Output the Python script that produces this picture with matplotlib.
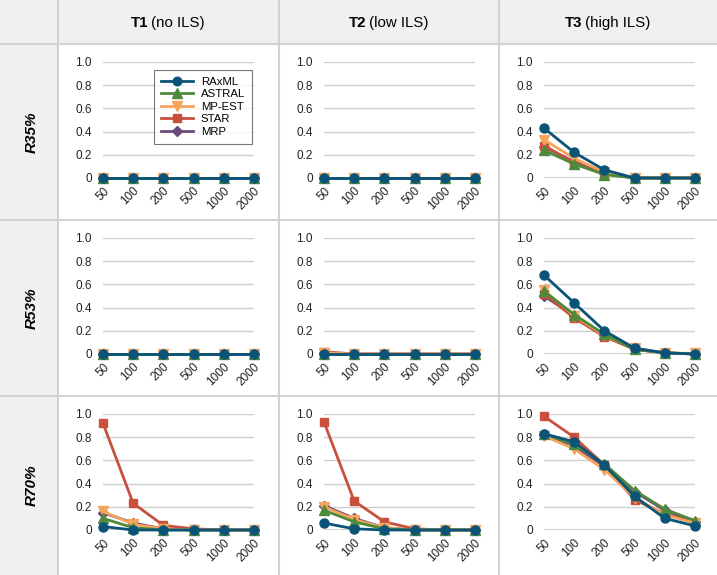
import matplotlib
matplotlib.use("Agg")
import matplotlib.pyplot as plt
from matplotlib.patches import Rectangle

plt.rcParams['font.family'] = ['Liberation Sans', 'DejaVu Sans']

# sample sizes on the x axis (categorical)
x_labels = ['50', '100', '200', '500', '1000', '2000']
methods = ['RAxML', 'ASTRAL', 'MP-EST', 'STAR', 'MRP']
col_titles = [('T1', ' (no ILS)'), ('T2', ' (low ILS)'), ('T3', ' (high ILS)')]
row_titles = ['R35%', 'R53%', 'R70%']

# each panel: one list per method, in the order of `methods`
r35_t1 = [[0, 0, 0, 0, 0, 0]] * 5
r35_t2 = [[0, 0, 0, 0, 0, 0]] * 5
r35_t3 = [
    [0.43, 0.22, 0.07, 0, 0, 0],
    [0.24, 0.12, 0.03, 0, 0, 0],
    [0.33, 0.17, 0.05, 0, 0, 0],
    [0.28, 0.13, 0.04, 0, 0, 0],
    [0.27, 0.14, 0.04, 0, 0, 0],
]
r53_t1 = [[0, 0, 0, 0, 0, 0]] * 5
r53_t2 = [
    [0, 0, 0, 0, 0, 0],
    [0, 0, 0, 0, 0, 0],
    [0.01, 0, 0, 0, 0, 0],
    [0.02, 0, 0, 0, 0, 0],
    [0.01, 0, 0, 0, 0, 0],
]
r53_t3 = [
    [0.68, 0.44, 0.20, 0.05, 0.01, 0],
    [0.54, 0.34, 0.17, 0.04, 0.01, 0],
    [0.55, 0.33, 0.16, 0.05, 0.01, 0.005],
    [0.52, 0.31, 0.15, 0.04, 0.01, 0],
    [0.50, 0.33, 0.16, 0.04, 0.01, 0],
]
r70_t1 = [
    [0.03, 0, 0, 0, 0, 0],
    [0.10, 0.02, 0, 0, 0, 0],
    [0.16, 0.05, 0.01, 0, 0, 0],
    [0.92, 0.23, 0.04, 0.01, 0, 0],
    [0.15, 0.06, 0.01, 0, 0, 0],
]
r70_t2 = [
    [0.06, 0.01, 0, 0, 0, 0],
    [0.17, 0.07, 0.01, 0, 0, 0],
    [0.20, 0.09, 0.02, 0, 0, 0],
    [0.93, 0.25, 0.07, 0.01, 0, 0],
    [0.21, 0.10, 0.02, 0, 0, 0],
]
r70_t3 = [
    [0.83, 0.76, 0.56, 0.29, 0.10, 0.035],
    [0.83, 0.74, 0.57, 0.34, 0.18, 0.08],
    [0.81, 0.70, 0.52, 0.28, 0.13, 0.06],
    [0.98, 0.80, 0.56, 0.26, 0.14, 0.06],
    [0.82, 0.72, 0.55, 0.33, 0.17, 0.07],
]
panels = [[r35_t1, r35_t2, r35_t3],
          [r53_t1, r53_t2, r53_t3],
          [r70_t1, r70_t2, r70_t3]]

colors = ['#0b5478', '#4f8a3c', '#f6a45c', '#c8503d', '#6b4a7c']
markers = ['o', '^', 'v', 's', 'D']
msizes = [6.5, 7, 7, 6, 5.5]

W, H = 717, 575
col_edges = [0, 58, 279, 499, 717]
row_edges = [0, 44, 220, 396, 575]

fig = plt.figure(figsize=(W / 100, H / 100), dpi=100)

# table background in pixel coordinates
bg = fig.add_axes([0, 0, 1, 1])
bg.set_xlim(0, W)
bg.set_ylim(H, 0)
bg.axis('off')
bg.add_patch(Rectangle((0, 0), W, row_edges[1], color='#f0f0f0', lw=0))
bg.add_patch(Rectangle((0, 0), col_edges[1], H, color='#f0f0f0', lw=0))
for x in col_edges[1:-1]:
    bg.plot([x, x], [0, H], color='#d2d2d2', lw=1.5)
for y in row_edges[1:-1]:
    bg.plot([0, W], [y, y], color='#d2d2d2', lw=1.5)

renderer = fig.canvas.get_renderer()
for j, (bold, rest) in enumerate(col_titles):
    cx = (col_edges[j + 1] + col_edges[j + 2]) / 2
    cy = row_edges[1] / 2 + 1
    t1 = bg.text(0, cy, bold, fontsize=10.8, fontweight='bold', va='center', ha='left')
    t2 = bg.text(0, cy, rest, fontsize=10.8, va='center', ha='left')
    w1 = t1.get_window_extent(renderer).width
    w2 = t2.get_window_extent(renderer).width
    x0 = cx - (w1 + w2) / 2
    t1.set_x(x0)
    t2.set_x(x0 + w1 - 1)

for i, name in enumerate(row_titles):
    cy = (row_edges[i + 1] + row_edges[i + 2]) / 2
    bg.text(col_edges[1] / 2 + 3, cy, name, fontsize=11, fontweight='bold',
            fontstyle='italic', rotation=90, ha='center', va='center')

xs = list(range(len(x_labels)))
for i in range(3):
    for j in range(3):
        left = col_edges[j + 1] + 45
        top = row_edges[i + 1] + 18
        ax = fig.add_axes([left / W, 1 - (top + 116) / H, 151 / W, 116 / H])
        ax.set_xlim(0, len(x_labels) - 1)
        ax.set_ylim(0, 1)
        ax.set_yticks([0, 0.2, 0.4, 0.6, 0.8, 1.0])
        ax.set_yticklabels(['0', '0.2', '0.4', '0.6', '0.8', '1.0'])
        ax.set_xticks(xs)
        ax.set_xticklabels(x_labels, rotation=45, ha='right', va='top',
                           rotation_mode='anchor')
        ax.tick_params(length=0, labelsize=8.5, colors='#222222')
        ax.tick_params(axis='y', pad=8)
        ax.tick_params(axis='x', pad=5)
        for s in ax.spines.values():
            s.set_visible(False)
        ax.grid(axis='y', color='#cfcfcf', lw=1)
        ax.set_axisbelow(True)
        ax.axhline(0, color='#333333', lw=1, zorder=1)
        data = panels[i][j]
        for k in reversed(range(len(methods))):
            ax.plot(xs, data[k], color=colors[k], marker=markers[k],
                    markersize=msizes[k], lw=2, label=methods[k],
                    clip_on=False, zorder=10 - k)
        if i == 0 and j == 0:
            h, l = ax.get_legend_handles_labels()
            leg = ax.legend(h[::-1], l[::-1], loc='upper left',
                            bbox_to_anchor=(0.30, 0.98), fontsize=8.2,
                            frameon=True, fancybox=False, edgecolor='#555555',
                            handlelength=2.8, handletextpad=0.7,
                            labelspacing=0.22, borderpad=0.6, markerscale=0.95)
            leg.get_frame().set_linewidth(0.8)

fig.savefig('out.png', dpi=100, facecolor='white')
